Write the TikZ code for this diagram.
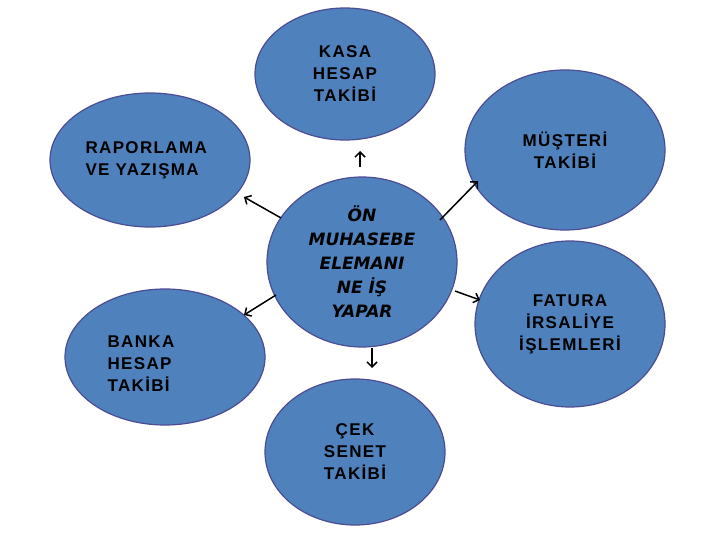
\documentclass[tikz,border=0pt]{standalone}
\usepackage{fontspec}
\setmainfont[LetterSpace=8]{Liberation Sans}
\newfontfamily\cfont{DejaVu Sans}
\usetikzlibrary{shapes.geometric,arrows.meta}
\begin{document}
\begin{tikzpicture}[x=1pt,y=-1pt,
  bub/.style={ellipse,draw=blue!40!black!70,line width=1.2pt,fill={rgb,255:red,79;green,129;blue,189},
    align=center,font=\fontsize{17}{22}\selectfont\bfseries,text=black,inner sep=0pt},
  arr/.style={-{Straight Barb[length=5pt,width=10pt]},line width=1.5pt}]
\useasboundingbox (0,0) rectangle (720,540);
\node[bub,minimum width=180,minimum height=132] (kasa) at (345,74) {KASA\\HESAP\\TAKİBİ};
\node[bub,minimum width=200,minimum height=134] (rap) at (150,160) {};
\node[font=\fontsize{17}{22}\selectfont\bfseries,align=left,anchor=west] (raptxt) at (82,160) {RAPORLAMA\\VE YAZIŞMA};
\node[bub,minimum width=200,minimum height=160] (mus) at (565,150) {MÜŞTERİ\\TAKİBİ};
\node[bub,minimum width=190,minimum height=170,font=\cfont\fontsize{17}{24}\selectfont\bfseries\itshape] (c) at (362,262) {ÖN\\MUHASEBE\\ELEMANI\\NE İŞ\\YAPAR};
\node[bub,minimum width=200,minimum height=136] (ban) at (165,357) {};
\node[font=\fontsize{17}{22}\selectfont\bfseries,align=left,anchor=west] (bantxt) at (104,364) {BANKA\\HESAP\\TAKİBİ};
\node[bub,minimum width=190,minimum height=166] (fat) at (570,324) {FATURA\\İRSALİYE\\İŞLEMLERİ};
\node[bub,minimum width=180,minimum height=146] (cek) at (355,452) {ÇEK\\SENET\\TAKİBİ};
\coordinate (a1) at (360,167); \coordinate (b1) at (360,151);
\coordinate (a2) at (281,218); \coordinate (b2) at (244,197);
\coordinate (a3) at (440,220); \coordinate (b3) at (478,181);
\coordinate (a4) at (276,295); \coordinate (b4) at (244,315);
\coordinate (a5) at (455,291); \coordinate (b5) at (480,300);
\coordinate (a6) at (372,348); \coordinate (b6) at (372,368);
\foreach \i in {1,...,6} \draw[arr] (a\i) -- (b\i);
\end{tikzpicture}
\end{document}
